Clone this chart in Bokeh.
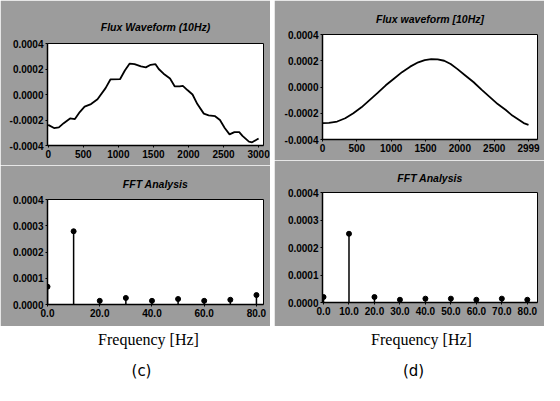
from bokeh.plotting import figure
from bokeh.layouts import column, row
from bokeh.models import FixedTicker, PrintfTickFormatter, Range1d, Label
from bokeh.embed import file_html
from bokeh.resources import INLINE

# ---- data ----
# (c) flux waveform, noisy
wave_c_x = [0, 83, 152, 221, 312, 381, 450, 519, 611, 703, 818, 887, 1024, 1093, 1162, 1231,
            1323, 1392, 1461, 1530, 1576, 1645, 1737, 1805, 1874, 1920, 1989, 2058, 2127,
            2219, 2288, 2380, 2449, 2517, 2586, 2655, 2724, 2770, 2862, 2908, 3000]
wave_c_y = [-2.38e-4, -2.63e-4, -2.58e-4, -2.25e-4, -1.88e-4, -1.93e-4, -1.38e-4, -0.95e-4,
            -0.75e-4, -0.38e-4, 0.50e-4, 1.18e-4, 1.20e-4, 1.88e-4, 2.43e-4, 2.38e-4,
            2.20e-4, 2.13e-4, 2.33e-4, 2.38e-4, 2.00e-4, 1.63e-4, 1.25e-4, 0.63e-4,
            0.63e-4, 0.68e-4, 0.33e-4, 0.0, -0.75e-4, -1.50e-4, -1.63e-4, -1.70e-4,
            -2.00e-4, -2.63e-4, -3.13e-4, -2.95e-4, -2.95e-4, -3.25e-4, -3.70e-4,
            -3.75e-4, -3.45e-4]
# (d) flux waveform, smooth
wave_d_x = [0, 94, 213, 331, 449, 567, 685, 803, 921, 1039, 1157, 1276, 1394, 1488, 1583,
            1677, 1772, 1866, 1961, 2079, 2197, 2315, 2433, 2551, 2669, 2764, 2858, 2929, 2999]
wave_d_y = [-2.75e-4, -2.73e-4, -2.63e-4, -2.38e-4, -2.00e-4, -1.55e-4, -1.00e-4, -0.45e-4,
            0.13e-4, 0.63e-4, 1.13e-4, 1.55e-4, 1.88e-4, 2.05e-4, 2.13e-4, 2.10e-4,
            2.00e-4, 1.75e-4, 1.38e-4, 0.88e-4, 0.38e-4, -0.20e-4, -0.75e-4, -1.30e-4,
            -1.75e-4, -2.18e-4, -2.50e-4, -2.75e-4, -2.88e-4]
# FFT spectra
freq = [0, 10, 20, 30, 40, 50, 60, 70, 80]
fft_c = [0.68e-4, 2.79e-4, 0.14e-4, 0.25e-4, 0.14e-4, 0.21e-4, 0.14e-4, 0.18e-4, 0.36e-4]
fft_d = [0.20e-4, 2.50e-4, 0.20e-4, 0.10e-4, 0.14e-4, 0.14e-4, 0.10e-4, 0.14e-4, 0.10e-4]

wave_y_ticks = [-4e-4, -2e-4, 0.0, 2e-4, 4e-4]
fft_y_ticks = [0.0, 1e-4, 2e-4, 3e-4, 4e-4]
wave_c_x_ticks = [0, 500, 1000, 1500, 2000, 2500, 3000]
wave_d_x_ticks = [0, 500, 1000, 1500, 2000, 2500, 2999]
fft_c_x_ticks = [0, 20, 40, 60, 80]
fft_d_x_ticks = [0, 10, 20, 30, 40, 50, 60, 70, 80]

titles = ["Flux Waveform (10Hz)", "FFT Analysis", "Flux waveform [10Hz]", "FFT Analysis"]
captions = ["Frequency [Hz]", "(c)", "(d)"]

GRAY = "#9c9c9c"
FONT = "Liberation Sans"


def panel(w, h, left, right, top, bottom, xr, yr, title, standoff, xticks, yticks, xfmt):
    p = figure(width=w, height=h, x_range=Range1d(*xr), y_range=Range1d(*yr),
               output_backend="svg", toolbar_location=None,
               min_border_left=left, min_border_right=right,
               min_border_top=top, min_border_bottom=bottom)
    p.background_fill_color = "white"
    p.border_fill_color = GRAY
    p.outline_line_color = "black"
    p.outline_line_width = 1
    p.grid.visible = False
    p.title.text = title
    p.title.align = "center"
    p.title.text_font = FONT
    p.title.text_font_style = "bold italic"
    p.title.text_font_size = "10.5px"
    p.title.text_color = "black"
    p.title.standoff = standoff
    p.xaxis.ticker = FixedTicker(ticks=xticks)
    p.xaxis.formatter = PrintfTickFormatter(format=xfmt)
    p.yaxis.ticker = FixedTicker(ticks=yticks)
    p.yaxis.formatter = PrintfTickFormatter(format="%.4f")
    for ax in (p.xaxis, p.yaxis):
        ax.axis_line_color = "black"
        ax.axis_line_width = 1.5
        ax.major_tick_line_color = "black"
        ax.major_tick_out = 2
        ax.major_tick_in = 0
        ax.minor_tick_line_color = None
        ax.major_label_text_font = FONT
        ax.major_label_text_font_style = "bold"
        ax.major_label_text_font_size = "10px"
        ax.major_label_text_color = "black"
        ax.major_label_standoff = 2
    return p


# left column
lt = panel(270, 165, 47, 7, 43, 20, (-10, 3070), (-4e-4, 4e-4), titles[0], 21,
           wave_c_x_ticks, wave_y_ticks, "%d")
lt.line(wave_c_x, wave_c_y, line_color="black", line_width=1.8)

lb = panel(270, 161, 47, 7, 32, 22, (0, 82.7), (0, 4e-4), titles[1], 20,
           fft_c_x_ticks, fft_y_ticks, "%.1f")
lb.segment(x0=freq, y0=[0] * len(freq), x1=freq, y1=fft_c, line_color="black", line_width=1.5)
lb.scatter(freq, fft_c, size=5, color="black")

# right column
rt = panel(270, 160, 48, 7, 34, 21, (0, 3130), (-4e-4, 4e-4), titles[2], 19,
           wave_d_x_ticks, wave_y_ticks, "%d")
rt.line(wave_d_x, wave_d_y, line_color="black", line_width=1.8)

rb = panel(270, 166, 48, 7, 30, 24, (-0.4, 84), (0, 4e-4), titles[3], 18,
           fft_d_x_ticks, fft_y_ticks, "%.1f")
rb.segment(x0=freq, y0=[0] * len(freq), x1=freq, y1=fft_d, line_color="black", line_width=1.5)
rb.scatter(freq, fft_d, size=5, color="black")

# captions strip
cap = figure(width=544, height=59, x_range=Range1d(0, 544), y_range=Range1d(0, 59),
             output_backend="svg", toolbar_location=None, min_border=0,
             x_axis_location=None, y_axis_location=None)
cap.outline_line_color = None
cap.grid.visible = False
cap.background_fill_color = "white"
cap.border_fill_color = "white"
for cx in (148, 421):
    cap.add_layout(Label(x=cx, y=46, text=captions[0], text_align="center",
                         text_baseline="middle", text_font="Liberation Serif",
                         text_font_size="16px", text_color="black"))
for cx, t in ((141, captions[1]), (413, captions[2])):
    cap.add_layout(Label(x=cx, y=15, text=t, text_align="center",
                         text_baseline="middle", text_font="DejaVu Sans",
                         text_font_size="15px", text_color="black"))

layout = column(row(column(lt, lb), column(rt, rb), spacing=4), cap)

open("out.html", "w").write(file_html(layout, INLINE))
